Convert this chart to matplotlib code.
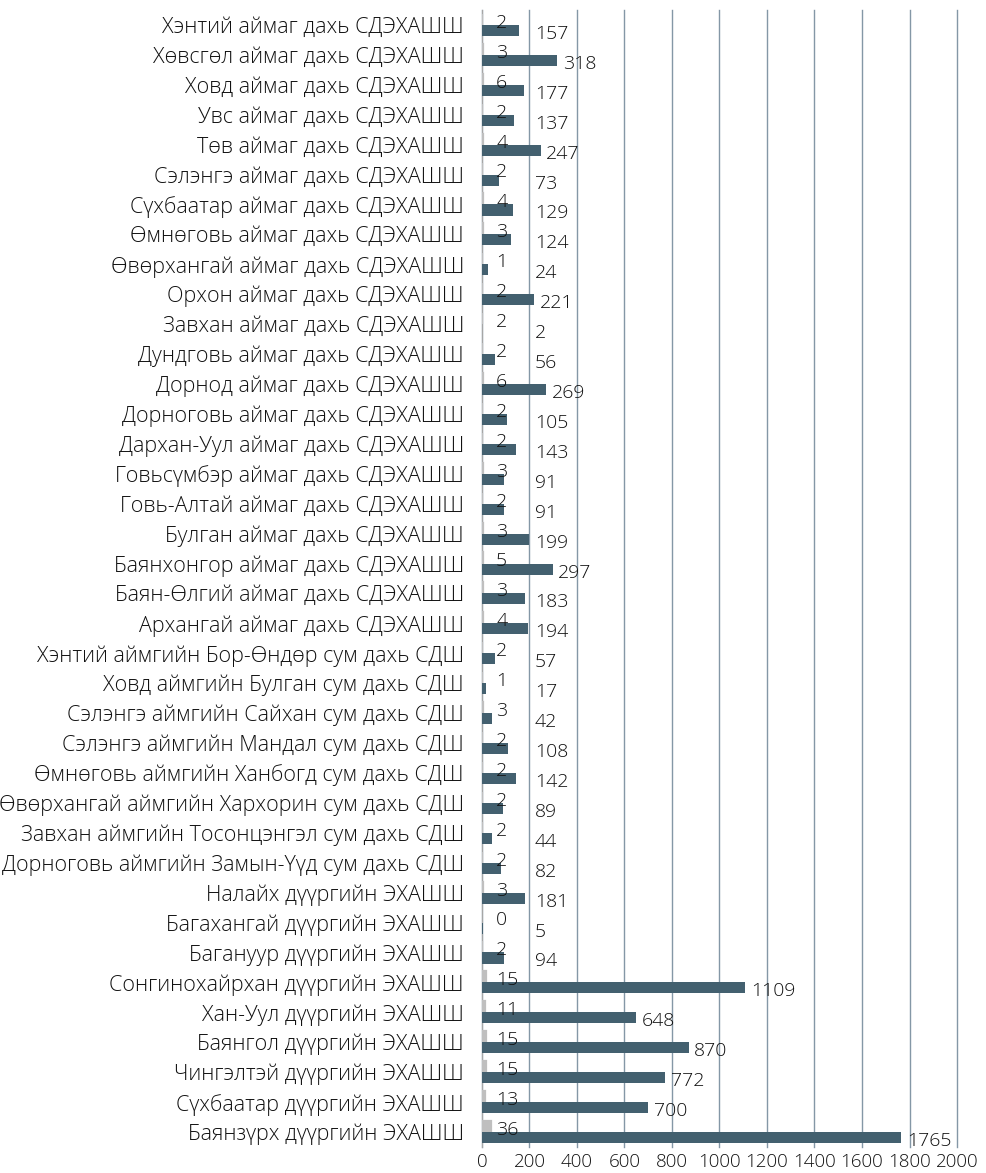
import numpy as np
import matplotlib
matplotlib.use("Agg")
import matplotlib.pyplot as plt

plt.rcParams['font.family'] = ['Open Sans', 'Noto Sans', 'DejaVu Sans']
plt.rcParams['font.weight'] = 300

# categories, top to bottom as in the chart
schools = [
    'Хэнтий аймаг дахь СДЭХАШШ',
    'Хөвсгөл аймаг дахь СДЭХАШШ',
    'Ховд аймаг дахь СДЭХАШШ',
    'Увс аймаг дахь СДЭХАШШ',
    'Төв аймаг дахь СДЭХАШШ',
    'Сэлэнгэ аймаг дахь СДЭХАШШ',
    'Сүхбаатар аймаг дахь СДЭХАШШ',
    'Өмнөговь аймаг дахь СДЭХАШШ',
    'Өвөрхангай аймаг дахь СДЭХАШШ',
    'Орхон аймаг дахь СДЭХАШШ',
    'Завхан аймаг дахь СДЭХАШШ',
    'Дундговь аймаг дахь СДЭХАШШ',
    'Дорнод аймаг дахь СДЭХАШШ',
    'Дорноговь аймаг дахь СДЭХАШШ',
    'Дархан-Уул аймаг дахь СДЭХАШШ',
    'Говьсүмбэр аймаг дахь СДЭХАШШ',
    'Говь-Алтай аймаг дахь СДЭХАШШ',
    'Булган аймаг дахь СДЭХАШШ',
    'Баянхонгор аймаг дахь СДЭХАШШ',
    'Баян-Өлгий аймаг дахь СДЭХАШШ',
    'Архангай аймаг дахь СДЭХАШШ',
    'Хэнтий аймгийн Бор-Өндөр сум дахь СДШ',
    'Ховд аймгийн Булган сум дахь СДШ',
    'Сэлэнгэ аймгийн Сайхан сум дахь СДШ',
    'Сэлэнгэ аймгийн Мандал сум дахь СДШ',
    'Өмнөговь аймгийн Ханбогд сум дахь СДШ',
    'Өвөрхангай аймгийн Хархорин сум дахь СДШ',
    'Завхан аймгийн Тосонцэнгэл сум дахь СДШ',
    'Дорноговь аймгийн Замын-Үүд сум дахь СДШ',
    'Налайх дүүргийн ЭХАШШ',
    'Багахангай дүүргийн ЭХАШШ',
    'Багануур дүүргийн ЭХАШШ',
    'Сонгинохайрхан дүүргийн ЭХАШШ',
    'Хан-Уул дүүргийн ЭХАШШ',
    'Баянгол дүүргийн ЭХАШШ',
    'Чингэлтэй дүүргийн ЭХАШШ',
    'Сүхбаатар дүүргийн ЭХАШШ',
    'Баянзүрх дүүргийн ЭХАШШ',
]

# light gray series (small numbers)
small_vals = [2, 3, 6, 2, 4, 2, 4, 3, 1, 2, 2, 2, 6, 2, 2, 3, 2, 3, 5, 3, 4,
              2, 1, 3, 2, 2, 2, 2, 2, 3, 0, 2, 15, 11, 15, 15, 13, 36]
# dark series
big_vals = [157, 318, 177, 137, 247, 73, 129, 124, 24, 221, 2, 56, 269, 105,
            143, 91, 91, 199, 297, 183, 194, 57, 17, 42, 108, 142, 89, 44, 82,
            181, 5, 94, 1109, 648, 870, 772, 700, 1765]

x_ticks = [0, 200, 400, 600, 800, 1000, 1200, 1400, 1600, 1800, 2000]

gray_color = '#BFBFBF'
dark_color = '#43606F'
grid_color = '#8497A6'
text_color = '#111111'
fs = 15.5      # category labels
num_fs = 14    # data labels
tick_fs = 13.5 # x tick labels

fig = plt.figure(figsize=(9.86, 11.73), dpi=100)
ax = fig.add_axes([0.4888, 0.0222, 0.4818, 0.9693])

y = np.arange(len(schools))
h = 0.37

ax.barh(y - h / 2, small_vals, height=h, color=gray_color,
        edgecolor=gray_color, linewidth=[1.6 if v > 0 else 0 for v in small_vals],
        zorder=3)
ax.barh(y + h / 2, big_vals, height=h, color=dark_color, zorder=3)

# data labels
for i, (s, b) in enumerate(zip(small_vals, big_vals)):
    ax.annotate(str(s), xy=(max(s, 36), i - h / 2), xytext=(4, -2.5),
                textcoords='offset points', ha='left', va='center',
                fontsize=num_fs, color=text_color, zorder=4)
    ax.annotate(str(b), xy=(max(b, 200), i + h / 2), xytext=(4, -2.5),
                textcoords='offset points', ha='left', va='center',
                fontsize=num_fs, color=text_color, zorder=4)

ax.set_xlim(0, 2000)
ax.set_ylim(len(schools) - 0.5, -0.5)
ax.set_xticks(x_ticks)
ax.set_xticklabels([str(t) for t in x_ticks], fontsize=tick_fs, color=text_color)
ax.set_yticks(y)
ax.set_yticklabels(schools, fontsize=fs, color=text_color)
ax.tick_params(axis='both', length=0, pad=4)
ax.tick_params(axis='y', pad=13)

ax.grid(axis='x', color=grid_color, linewidth=1, zorder=0)
for gl in ax.get_xgridlines():
    gl.set_clip_on(False)
for side in ['top', 'right', 'bottom']:
    ax.spines[side].set_visible(False)
ax.spines['left'].set_color('#A6A6A6')
ax.spines['left'].set_zorder(2)

fig.savefig('out.png', dpi=100)
